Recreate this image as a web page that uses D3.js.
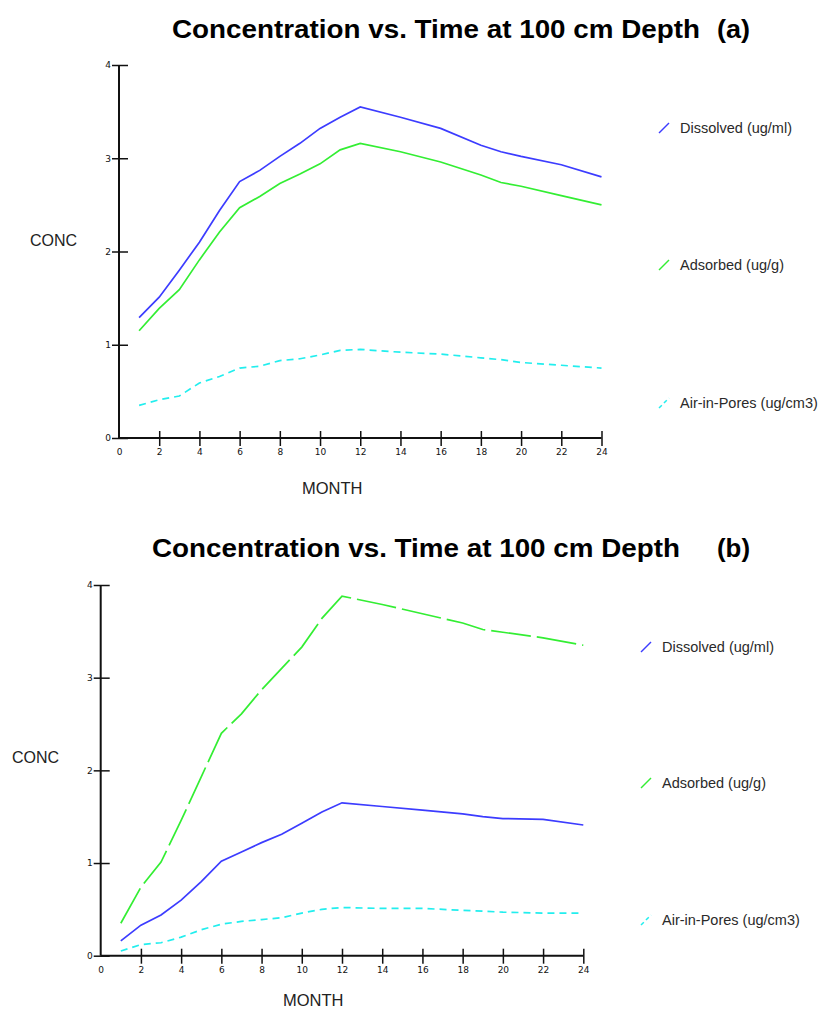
<!DOCTYPE html>
<html>
<head>
<meta charset="utf-8">
<script src="https://cdn.jsdelivr.net/npm/d3@7"></script>
<style>
  body { margin: 0; background: #fff; }
  svg { display: block; }
</style>
</head>
<body>
<div id="chart"></div>
<script>

// months
var months = [1,2,3,4,5,6,7,8,9,10,11,12,14,16,18,19,20,22,24];

var xTicks = [0,2,4,6,8,10,12,14,16,18,20,22,24];
var yTicks = [0,1,2,3,4];

var seriesNames = ["Dissolved (ug/ml)","Adsorbed (ug/g)","Air-in-Pores (ug/cm3)"];
var seriesColors = ["#3c3cff","#33ee33","#22eeee"];

// chart (a)
var dissolvedA = [1.29,1.51,1.80,2.10,2.44,2.75,2.87,3.02,3.16,3.32,3.44,3.55,3.44,3.32,3.14,3.07,3.02,2.93,2.80];
var adsorbedA  = [1.15,1.39,1.59,1.91,2.21,2.47,2.59,2.73,2.83,2.94,3.09,3.16,3.07,2.96,2.82,2.74,2.70,2.60,2.50];
var airA       = [0.35,0.41,0.45,0.59,0.66,0.75,0.77,0.83,0.85,0.89,0.94,0.95,0.92,0.90,0.86,0.84,0.81,0.78,0.75];

// chart (b)
var dissolvedB = [0.16,0.33,0.44,0.60,0.80,1.02,1.12,1.22,1.31,1.43,1.55,1.65,1.61,1.57,1.53,1.50,1.48,1.47,1.41];
var adsorbedB  = [0.35,0.74,1.01,1.46,1.93,2.40,2.61,2.87,3.10,3.33,3.64,3.88,3.79,3.69,3.59,3.52,3.49,3.43,3.35];
var airB       = [0.05,0.12,0.14,0.20,0.28,0.34,0.37,0.39,0.41,0.46,0.50,0.52,0.51,0.51,0.49,0.48,0.47,0.46,0.46];

var svg = d3.select("#chart")
  .append("svg")
  .attr("width", 830)
  .attr("height", 1012);

function drawChart(opts) {

  var x = d3.scaleLinear().domain([0, 24]).range([opts.left, opts.right]);
  var y = d3.scaleLinear().domain([0, 4]).range([opts.bottom, opts.top]);

  var g = svg.append("g");

  // title
  g.append("text")
    .attr("x", opts.titleX)
    .attr("y", opts.titleY)
    .attr("textLength", 528)
    .attr("lengthAdjust", "spacingAndGlyphs")
    .style("font-family", "'Liberation Sans', Arial, sans-serif")
    .style("font-weight", "bold")
    .style("font-size", "26px")
    .text("Concentration vs. Time at 100 cm Depth");

  g.append("text")
    .attr("x", 717)
    .attr("y", opts.titleY)
    .attr("textLength", 33)
    .attr("lengthAdjust", "spacingAndGlyphs")
    .style("font-family", "'Liberation Sans', Arial, sans-serif")
    .style("font-weight", "bold")
    .style("font-size", "26px")
    .text(opts.tag);

  // axes
  var yAxis = d3.axisLeft(y).tickValues(yTicks).tickSize(7).tickPadding(1).tickFormat(d3.format("d"));
  var xAxis = d3.axisBottom(x).tickValues(xTicks).tickSize(8).tickPadding(3).tickFormat(d3.format("d"));

  var gy = g.append("g")
    .attr("transform", "translate(" + opts.left + ",0)")
    .call(yAxis);
  gy.selectAll(".tick line").attr("x1", 9);

  var gx = g.append("g")
    .attr("transform", "translate(0," + opts.bottom + ")")
    .call(xAxis);
  gx.selectAll(".tick line").attr("y1", -7);
  gx.selectAll(".tick").filter(function(d) { return d === 0; }).select("line").remove();

  [gx, gy].forEach(function(a) {
    a.select(".domain").attr("stroke", "#111").attr("stroke-width", 2);
    a.selectAll(".tick line").attr("stroke", "#111").attr("stroke-width", 1.5);
    a.selectAll(".tick text")
      .style("font-family", "'DejaVu Sans', sans-serif")
      .style("font-size", "9px")
      .attr("fill", "#111");
  });
  gy.select(".domain").attr("d", "M0," + opts.top + "V" + opts.bottom);
  gx.select(".domain").attr("d", "M" + opts.left + ",0H" + opts.right);

  // axis labels
  g.append("text")
    .attr("x", opts.concX)
    .attr("y", opts.concY)
    .style("font-family", "'Liberation Sans', Arial, sans-serif")
    .style("font-size", "16px")
    .attr("fill", "#222")
    .text("CONC");

  g.append("text")
    .attr("x", opts.monthX)
    .attr("y", opts.monthY)
    .style("font-family", "'Liberation Sans', Arial, sans-serif")
    .style("font-size", "16.5px")
    .attr("fill", "#222")
    .text("MONTH");

  // lines
  var line = d3.line()
    .x(function(d) { return x(d[0]); })
    .y(function(d) { return y(d[1]); });

  opts.series.forEach(function(vals, i) {
    g.append("path")
      .datum(months.map(function(m, j) { return [m, vals[j]]; }))
      .attr("d", line)
      .attr("fill", "none")
      .attr("stroke", seriesColors[i])
      .attr("stroke-width", 1.7)
      .attr("stroke-dasharray", opts.dashes[i]);
  });

  // legend
  seriesNames.forEach(function(name, i) {
    var ly = opts.legendY[i];
    g.append("line")
      .attr("x1", opts.legendX - 21)
      .attr("y1", ly)
      .attr("x2", opts.legendX - 11)
      .attr("y2", ly - 10)
      .attr("stroke", seriesColors[i])
      .attr("stroke-width", 1.5)
      .attr("stroke-dasharray", i === 2 ? "4,3" : null);

    g.append("text")
      .attr("x", opts.legendX)
      .attr("y", ly)
      .style("font-family", "'Liberation Sans', Arial, sans-serif")
      .style("font-size", "14.5px")
      .attr("fill", "#2a2a2a")
      .text(name);
  });
}

drawChart({
  tag: "(a)",
  titleX: 172, titleY: 38,
  left: 119, right: 601.5, top: 65, bottom: 438,
  concX: 30, concY: 246,
  monthX: 302, monthY: 494,
  legendX: 680, legendY: [133, 270, 408],
  series: [dissolvedA, adsorbedA, airA],
  dashes: [null, null, "7,5"]
});

drawChart({
  tag: "(b)",
  titleX: 152, titleY: 557,
  left: 100.7, right: 583.3, top: 585, bottom: 955.7,
  concX: 12, concY: 763,
  monthX: 283, monthY: 1006,
  legendX: 662, legendY: [652, 788, 925],
  series: [dissolvedB, adsorbedB, airB],
  dashes: [null, "40,6", "7,5"]
});

</script>
</body>
</html>
